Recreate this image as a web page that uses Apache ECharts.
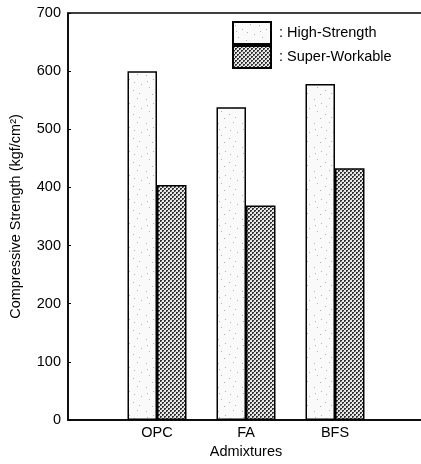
<!DOCTYPE html>
<html>
<head>
<meta charset="utf-8">
<script src="https://cdn.jsdelivr.net/npm/echarts@6/dist/echarts.min.js"></script>
<style>html,body{margin:0;padding:0;background:#fff}#c{width:421px;height:464px}</style>
</head>
<body>
<div id="c"></div>
<script>
const categories = ['', 'OPC', 'FA', 'BFS', ''];
const highStrength = ['-', 600, 538, 578, '-'];
const superWorkable = ['-', 404, 369, 433, '-'];
const seriesNames = ['High-Strength', 'Super-Workable'];
const yTicks = {min: 0, max: 700, interval: 100};

function makePattern(kind) {
  const c = document.createElement('canvas');
  const ctx = c.getContext('2d');
  if (kind === 'light') {
    c.width = 24; c.height = 24;
    ctx.fillStyle = '#fafafa'; ctx.fillRect(0, 0, 24, 24);
    const pts = [[2,3],[9,7],[17,2],[21,12],[5,15],[13,18],[19,21],[8,22],[14,10],[3,9]];
    ctx.fillStyle = '#b0b0b0';
    pts.forEach(p => ctx.fillRect(p[0], p[1], 1, 1));
  } else {
    c.width = 4; c.height = 4;
    ctx.fillStyle = '#e8e8e8'; ctx.fillRect(0, 0, 4, 4);
    ctx.fillStyle = '#333';
    ctx.fillRect(0, 0, 2, 1); ctx.fillRect(0, 1, 1, 1);
    ctx.fillRect(2, 2, 2, 1); ctx.fillRect(2, 3, 1, 1);
    ctx.fillStyle = '#999';
    ctx.fillRect(1, 1, 1, 1); ctx.fillRect(3, 3, 1, 1);
  }
  return {image: c, repeat: 'repeat'};
}

const chart = echarts.init(document.getElementById('c'));
const font = 'Liberation Sans, Arial, sans-serif';
const fs = 14.5;
chart.setOption({
  animation: false,
  textStyle: {fontFamily: font},
  grid: {left: 68, top: 13, right: -3, bottom: 44, show: true, borderColor: '#000', borderWidth: 1.5,
         containLabel: false, outerBoundsMode: 'none'},
  legend: {
    orient: 'vertical', left: 232, top: 21, itemGap: 0, itemWidth: 38, itemHeight: 22,
    padding: 0, icon: 'rect',
    formatter: ': {name}',
    textStyle: {fontSize: fs, color: '#000', fontFamily: font, padding: [0,0,0,3]},
    data: seriesNames
  },
  xAxis: {
    type: 'category', data: categories, boundaryGap: false,
    name: 'Admixtures', nameLocation: 'middle', nameGap: 23,
    nameTextStyle: {fontSize: fs, color: '#000', fontFamily: font},
    axisLine: {lineStyle: {color: '#000', width: 1.5}},
    axisTick: {show: false},
    axisLabel: {fontSize: fs, color: '#000', margin: 5, fontFamily: font},
    splitLine: {show: false}
  },
  yAxis: {
    type: 'value', min: yTicks.min, max: yTicks.max, interval: yTicks.interval,
    name: 'Compressive Strength (kgf/cm\u00B2)', nameLocation: 'middle', nameGap: 45,
    nameTextStyle: {fontSize: 14.5, color: '#000', fontFamily: font},
    axisLine: {show: true, lineStyle: {color: '#000', width: 1.5}},
    axisTick: {show: true, inside: true, length: 3, lineStyle: {color: '#000'}},
    axisLabel: {fontSize: fs, color: '#000', margin: 7, fontFamily: font},
    splitLine: {show: false}
  },
  series: [
    {name: seriesNames[0], type: 'bar', data: highStrength, barWidth: 29.5, barGap: '0%',
     itemStyle: {color: makePattern('light'), borderColor: '#000', borderWidth: 1.5}},
    {name: seriesNames[1], type: 'bar', data: superWorkable, barWidth: 29.5, barGap: '0%',
     itemStyle: {color: makePattern('dense'), borderColor: '#000', borderWidth: 1.5}}
  ]
});
</script>
</body>
</html>
